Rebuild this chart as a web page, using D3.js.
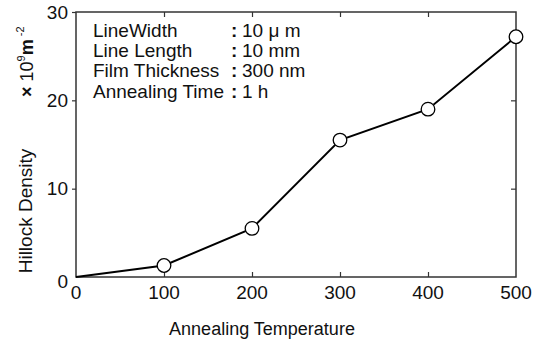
<!DOCTYPE html>
<html>
<head>
<meta charset="utf-8">
<script src="https://cdn.jsdelivr.net/npm/d3@7"></script>
<style>
  body { margin: 0; background: #fff; }
  text { font-family: "Liberation Sans", Arial, sans-serif; fill: #111; }
</style>
</head>
<body>
<div id="chart"></div>
<script>
const temperatures = [0, 100, 200, 300, 400, 500];
const densities = [0, 1.3, 5.5, 15.5, 19, 27.2];
const xTicks = [0, 100, 200, 300, 400, 500];
const yTicks = [0, 10, 20, 30];
const infoLabels = ['LineWidth', 'Line Length', 'Film Thickness', 'Annealing Time'];
const infoValues = ['10 μ m', '10 mm', '300 nm', '1 h'];

const width = 538, height = 340;
const margin = { top: 12, right: 22, bottom: 63, left: 76 };
const w = width - margin.left - margin.right;
const h = height - margin.top - margin.bottom;

const svg = d3.select('#chart').append('svg')
  .attr('width', width)
  .attr('height', height);

const g = svg.append('g')
  .attr('transform', `translate(${margin.left},${margin.top})`);

const x = d3.scaleLinear().domain([0, 500]).range([0, w]);
const y = d3.scaleLinear().domain([0, 30]).range([h, 0]);

// frame
g.append('rect')
  .attr('width', w).attr('height', h)
  .attr('fill', 'none')
  .attr('stroke', '#333')
  .attr('stroke-width', 1.5);

// bottom axis: ticks inward, labels below
g.append('g')
  .attr('transform', `translate(0,${h})`)
  .call(d3.axisBottom(x).tickValues(xTicks.slice(1, -1)).tickSize(-5).tickFormat(''))
  .call(a => a.select('.domain').remove())
  .call(a => a.selectAll('.tick line').attr('stroke', '#333').attr('stroke-width', 1.2));

g.append('g')
  .selectAll('text')
  .data(xTicks)
  .enter()
  .append('text')
  .attr('x', d => x(d))
  .attr('y', h + 22)
  .attr('text-anchor', 'middle')
  .style('font-size', '19px')
  .text(d => d);

// top axis: ticks inward
g.append('g')
  .call(d3.axisTop(x).tickValues(xTicks.slice(1, -1)).tickSize(-5).tickFormat(''))
  .call(a => a.select('.domain').remove())
  .call(a => a.selectAll('.tick line').attr('stroke', '#333').attr('stroke-width', 1.2));

// left axis: ticks outward
g.append('g')
  .call(d3.axisLeft(y).tickValues(yTicks).tickSize(4).tickPadding(4).tickFormat(d3.format('d')))
  .call(a => a.select('.domain').remove())
  .call(a => a.selectAll('.tick line').attr('stroke', '#333').attr('stroke-width', 1.2))
  .call(a => a.selectAll('.tick text')
    .attr('fill', '#111')
    .style('font-size', '19px')
    .style('font-family', '"Liberation Sans", Arial, sans-serif'))
  .call(a => a.selectAll('.tick').filter(d => d === 0).select('text').attr('dy', '0.55em'))
  .call(a => a.selectAll('.tick').filter(d => d === 0).select('line').remove());

// right axis: ticks inward
g.append('g')
  .attr('transform', `translate(${w},0)`)
  .call(d3.axisRight(y).tickValues(yTicks.slice(1, -1)).tickSize(-5).tickFormat(''))
  .call(a => a.select('.domain').remove())
  .call(a => a.selectAll('.tick line').attr('stroke', '#333').attr('stroke-width', 1.2));

// data line
const pts = temperatures.map((t, i) => ({ t, v: densities[i] }));

const line = d3.line()
  .x(d => x(d.t))
  .y(d => y(d.v));

g.append('path')
  .datum(pts)
  .attr('fill', 'none')
  .attr('stroke', '#000')
  .attr('stroke-width', 2)
  .attr('d', line);

g.selectAll('circle')
  .data(pts.slice(1))
  .enter()
  .append('circle')
  .attr('cx', d => x(d.t))
  .attr('cy', d => y(d.v))
  .attr('r', 6.8)
  .attr('fill', '#fff')
  .attr('stroke', '#000')
  .attr('stroke-width', 1.3);

// info block
const info = g.append('g').attr('transform', 'translate(17,25)');
infoLabels.forEach((lbl, i) => {
  const yy = i * 20.2;
  info.append('text').attr('x', 0).attr('y', yy).style('font-size', '19px').text(lbl);
  info.append('text').attr('x', 138).attr('y', yy).style('font-size', '19px').style('font-weight', 'bold').text(':');
  info.append('text').attr('x', 149).attr('y', yy).style('font-size', '19px').text(infoValues[i]);
});

// axis titles
svg.append('text')
  .attr('x', 262)
  .attr('y', 335)
  .attr('text-anchor', 'middle')
  .style('font-size', '18px')
  .text('Annealing Temperature');

svg.append('text')
  .attr('transform', 'translate(32,211) rotate(-90)')
  .attr('text-anchor', 'middle')
  .style('font-size', '19px')
  .text('Hillock Density');

const unit = svg.append('text')
  .attr('transform', 'translate(33,97) rotate(-90)')
  .attr('text-anchor', 'start')
  .style('font-size', '18px');
unit.append('tspan').style('font-weight', 'bold').text('×');
unit.append('tspan').text(' 10');
unit.append('tspan').attr('dy', -8).style('font-size', '11px').text('9');
unit.append('tspan').attr('dy', 8).style('font-weight', 'bold').text('m');
unit.append('tspan').attr('dy', -9).style('font-size', '11px').text(' -2');
</script>
</body>
</html>
